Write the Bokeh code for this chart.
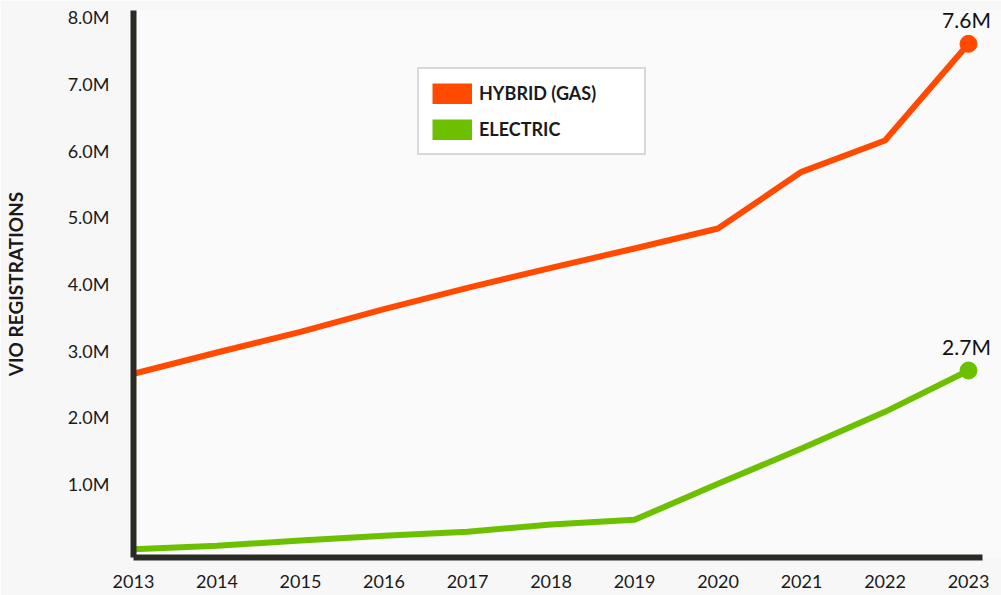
from bokeh.plotting import figure
from bokeh.models import FixedTicker, Legend, LegendItem, Label
from bokeh.embed import file_html
from bokeh.resources import INLINE

# ---- data ----
years = [2013, 2014, 2015, 2016, 2017, 2018, 2019, 2020, 2021, 2022, 2023]
hybrid = [2.65, 2.97, 3.28, 3.62, 3.94, 4.24, 4.53, 4.83, 5.68, 6.15, 7.6]
electric = [0.02, 0.07, 0.15, 0.22, 0.28, 0.39, 0.46, 1.0, 1.53, 2.08, 2.7]
series_names = ["HYBRID (GAS)", "ELECTRIC"]
end_labels = ["7.6M", "2.7M"]
y_ticks = [1, 2, 3, 4, 5, 6, 7, 8]
y_tick_labels = ["1.0M", "2.0M", "3.0M", "4.0M", "5.0M", "6.0M", "7.0M", "8.0M"]
x_tick_labels = [str(y) for y in years]
y_axis_title = "VIO REGISTRATIONS"

ORANGE = "#ff4a00"
GREEN = "#6cc000"
AXIS = "#2b2b25"
FONT = "Lato"
TEXT = "#1a1a1a"

p = figure(width=1001, height=595,
           x_range=(2013.0, 2023.395), y_range=(-0.105, 8.1),
           output_backend="svg", toolbar_location=None,
           min_border_left=133, min_border_right=0,
           min_border_top=10, min_border_bottom=38)

p.background_fill_color = "#fafafa"
p.border_fill_color = "#f7f7f7"
p.outline_line_color = None
p.grid.grid_line_color = None

# lines
p.line(years, hybrid, line_color=ORANGE, line_width=6, line_join="round")
p.line(years, electric, line_color=GREEN, line_width=6, line_join="round")

# end points + value labels
colors = [ORANGE, GREEN]
series = [hybrid, electric]
for vals, col, txt in zip(series, colors, end_labels):
    p.scatter([years[-1]], [vals[-1]], size=17, color=col)
    p.add_layout(Label(x=years[-1], y=vals[-1], text=txt,
                       x_offset=-2, y_offset=24,
                       text_align="center", text_baseline="alphabetic",
                       text_font=FONT, text_font_size="21px",
                       text_color="#111111"))

# axes
p.xaxis.ticker = FixedTicker(ticks=years)
p.xaxis.major_label_overrides = {y: l for y, l in zip(years, x_tick_labels)}
p.xaxis.bounds = (2012.965, 2023.17)
p.yaxis.ticker = FixedTicker(ticks=y_ticks)
p.yaxis.major_label_overrides = {t: l for t, l in zip(y_ticks, y_tick_labels)}

for ax in (p.xaxis, p.yaxis):
    ax.axis_line_color = AXIS
    ax.axis_line_width = 6
    ax.major_tick_line_color = None
    ax.minor_tick_line_color = None
    ax.major_tick_out = 0
    ax.major_tick_in = 0
    ax.major_label_text_font = FONT
    ax.major_label_text_font_size = "18px"
    ax.major_label_text_color = TEXT

p.xaxis.major_label_standoff = 17
p.yaxis.major_label_standoff = 24

p.yaxis.axis_label = y_axis_title
p.yaxis.axis_label_text_font = FONT
p.yaxis.axis_label_text_font_style = "bold"
p.yaxis.axis_label_text_font_size = "19px"
p.yaxis.axis_label_text_color = TEXT
p.yaxis.axis_label_standoff = 38

# legend with box swatches (thick butt-capped lines)
nan = float("nan")
rh = p.line([nan], [nan], line_color=ORANGE, line_width=21, line_cap="butt")
re_ = p.line([nan], [nan], line_color=GREEN, line_width=21, line_cap="butt")
legend = Legend(items=[LegendItem(label=series_names[0], renderers=[rh]),
                       LegendItem(label=series_names[1], renderers=[re_])],
                location=(284, 402), orientation="vertical",
                padding=13, spacing=14, margin=0,
                glyph_width=40, glyph_height=21, label_height=21,
                label_standoff=7, label_width=152,
                label_text_font=FONT, label_text_font_style="bold",
                label_text_font_size="18px", label_text_color=TEXT,
                background_fill_color="white", background_fill_alpha=1.0,
                border_line_color="#c8c8c8", border_line_alpha=0.7,
                border_line_width=2)
p.add_layout(legend)

open("out.html", "w").write(file_html(p, INLINE))
